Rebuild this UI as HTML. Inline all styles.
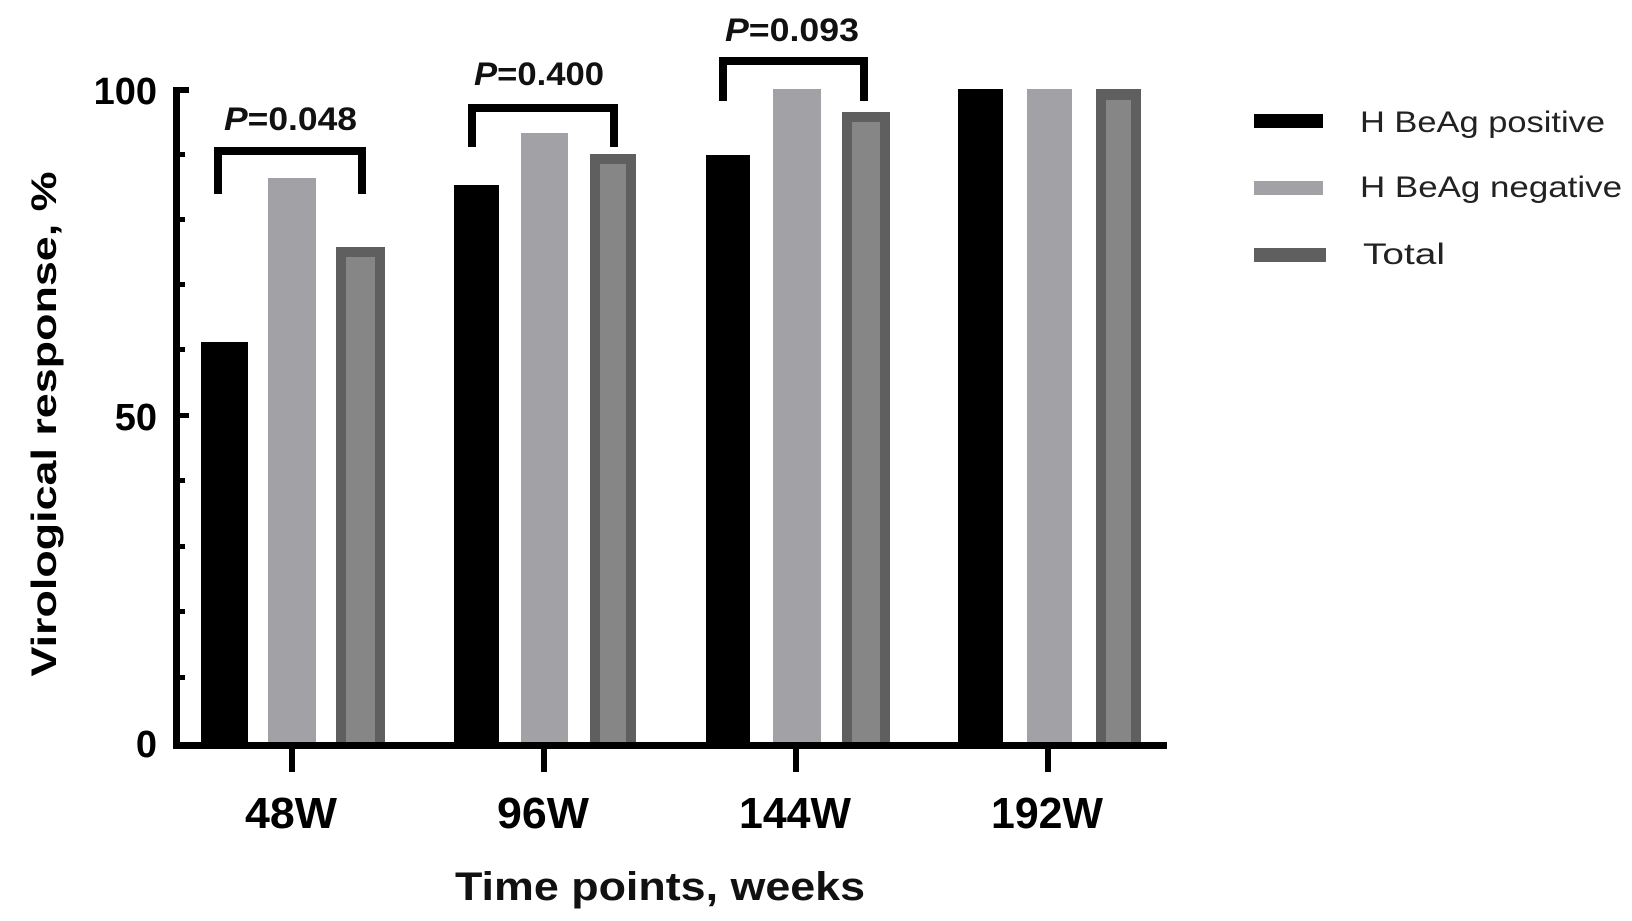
<!DOCTYPE html>
<html><head><meta charset="utf-8"><style>
html,body{margin:0;padding:0;background:#fff;}
svg{display:block;}
text{font-family:"Liberation Sans",Arial,sans-serif;}
</style></head><body>
<svg width="1632" height="921" viewBox="0 0 1632 921" xmlns="http://www.w3.org/2000/svg">
<rect width="1632" height="921" fill="#fff"/>
<rect x="201" y="342" width="47" height="403" fill="#000"/>
<rect x="268" y="178" width="48" height="567" fill="#a2a1a6"/>
<rect x="336" y="247" width="49" height="498" fill="#5f5f5f"/>
<rect x="346" y="257" width="29" height="488" fill="#868686"/>
<rect x="454" y="185" width="45" height="560" fill="#000"/>
<rect x="521" y="133" width="47" height="612" fill="#a2a1a6"/>
<rect x="590" y="154" width="46" height="591" fill="#5f5f5f"/>
<rect x="600" y="164" width="26" height="581" fill="#868686"/>
<rect x="706" y="155" width="44" height="590" fill="#000"/>
<rect x="773" y="89" width="48" height="656" fill="#a2a1a6"/>
<rect x="842" y="112" width="48" height="633" fill="#5f5f5f"/>
<rect x="852" y="122" width="28" height="623" fill="#868686"/>
<rect x="958" y="89" width="45" height="656" fill="#000"/>
<rect x="1027" y="89" width="45" height="656" fill="#a2a1a6"/>
<rect x="1096" y="89" width="45" height="656" fill="#5f5f5f"/>
<rect x="1106" y="100" width="25" height="645" fill="#868686"/>
<rect x="173" y="87" width="7" height="661" fill="#000"/>
<rect x="173" y="742" width="994" height="7" fill="#000"/>
<rect x="173" y="87" width="16" height="6" fill="#000"/>
<rect x="173" y="152" width="12" height="5" fill="#000"/>
<rect x="173" y="217" width="12" height="5" fill="#000"/>
<rect x="173" y="282" width="12" height="5" fill="#000"/>
<rect x="173" y="347" width="12" height="5" fill="#000"/>
<rect x="173" y="413" width="16" height="5" fill="#000"/>
<rect x="173" y="478" width="12" height="5" fill="#000"/>
<rect x="173" y="544" width="12" height="5" fill="#000"/>
<rect x="173" y="609" width="12" height="5" fill="#000"/>
<rect x="173" y="675" width="12" height="5" fill="#000"/>
<rect x="289" y="745" width="6" height="27" fill="#000"/>
<rect x="541" y="745" width="6" height="27" fill="#000"/>
<rect x="793" y="745" width="6" height="27" fill="#000"/>
<rect x="1045" y="745" width="6" height="27" fill="#000"/>
<g font-weight="bold" font-size="38" fill="#000" text-anchor="end">
<text x="157" y="104">100</text>
<text x="157" y="430">50</text>
<text x="157" y="757">0</text>
</g>
<text transform="translate(56,424) rotate(-90)" text-anchor="middle" font-weight="bold" font-size="35" textLength="505" lengthAdjust="spacingAndGlyphs">Virological response, %</text>
<g font-weight="bold" font-size="44" fill="#000" text-anchor="middle">
<text x="291" y="828" textLength="92" lengthAdjust="spacingAndGlyphs">48W</text>
<text x="543" y="828" textLength="92" lengthAdjust="spacingAndGlyphs">96W</text>
<text x="795" y="828" textLength="112" lengthAdjust="spacingAndGlyphs">144W</text>
<text x="1047" y="828" textLength="112" lengthAdjust="spacingAndGlyphs">192W</text>
</g>
<text x="660" y="900" text-anchor="middle" font-weight="bold" font-size="40" fill="#111" textLength="410" lengthAdjust="spacingAndGlyphs">Time points, weeks</text>
<g fill="none" stroke="#000" stroke-width="8">
<path d="M218 194 V151 H362 V194"/>
<path d="M472 147 V108 H614 V147"/>
<path d="M723 101 V61 H864 V101"/>
</g>
<g font-size="32" font-weight="bold" fill="#111">
<text x="224" y="130" textLength="133" lengthAdjust="spacingAndGlyphs"><tspan font-style="italic">P</tspan>=0.048</text>
<text x="474" y="85" textLength="130" lengthAdjust="spacingAndGlyphs"><tspan font-style="italic">P</tspan>=0.400</text>
<text x="725" y="41" textLength="134" lengthAdjust="spacingAndGlyphs"><tspan font-style="italic">P</tspan>=0.093</text>
</g>
<rect x="1254" y="114" width="69" height="14" fill="#000"/>
<rect x="1254" y="181" width="69" height="14" fill="#a2a1a6"/>
<rect x="1254" y="248" width="72" height="14" fill="#5f5f5f"/>
<g font-size="30" fill="#222">
<text x="1360" y="132" textLength="245" lengthAdjust="spacingAndGlyphs">H BeAg positive</text>
<text x="1360" y="197" textLength="262" lengthAdjust="spacingAndGlyphs">H BeAg negative</text>
<text x="1363" y="264" textLength="82" lengthAdjust="spacingAndGlyphs">Total</text>
</g>
</svg>
</body></html>
